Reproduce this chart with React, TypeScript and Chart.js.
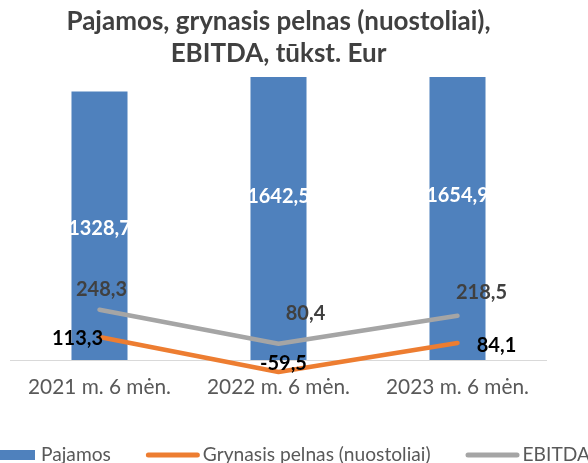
import React, { useEffect, useRef } from "react";
import { Chart, registerables } from "chart.js";

Chart.register(...registerables);

// ---- data ----
const categories = ["2021 m. 6 mėn.", "2022 m. 6 mėn.", "2023 m. 6 mėn."];
const pajamos = [1328.7, 1642.5, 1654.9];
const grynasisPelnas = [113.3, -59.5, 84.1];
const ebitda = [248.3, 80.4, 218.5];
const seriesNames = ["Pajamos", "Grynasis pelnas (nuostoliai)", "EBITDA"];
const titleLines = ["Pajamos, grynasis pelnas (nuostoliai),", "EBITDA, tūkst. Eur"];
const yMin = -70;
const yMax = 1400;

// ---- styles ----
const BLUE = "#4F81BD";
const ORANGE = "#ED7D31";
const GRAY = "#A5A5A5";
const FONT = "Lato, 'Open Sans', sans-serif";
const W = 588;
const H = 463;

// manual label offsets (dx, dy) from each point, per line dataset
const LINE_LABEL_OFFSETS: Record<number, [number, number][]> = {
  1: [[-22, 1], [5, -8], [39, 3]],
  2: [[2, -20], [27, -30], [24, -23]],
};
const LINE_LABEL_COLORS: Record<number, string> = { 1: "#000000", 2: "#404040" };

const fmt = (v: number) => v.toFixed(1).replace(".", ",");

const decorPlugin = {
  id: "decor",
  beforeDatasetsDraw(chart: any) {
    const { ctx, chartArea, scales } = chart;
    const y0 = Math.round(scales.y.getPixelForValue(0)) + 0.5;
    ctx.save();
    ctx.strokeStyle = "#D9D9D9";
    ctx.lineWidth = 1;
    ctx.beginPath();
    ctx.moveTo(chartArea.left, y0);
    ctx.lineTo(chartArea.right, y0);
    ctx.stroke();
    ctx.restore();
  },
  afterDatasetsDraw(chart: any) {
    const { ctx, scales } = chart;
    ctx.save();
    ctx.font = `bold 20px ${FONT}`;
    ctx.textAlign = "center";
    ctx.textBaseline = "middle";
    const barMeta = chart.getDatasetMeta(0);
    barMeta.data.forEach((el: any, i: number) => {
      const v = pajamos[i];
      const y = scales.y.getPixelForValue(v / 2) + 3;
      ctx.fillStyle = "#FFFFFF";
      ctx.fillText(fmt(v), el.x, y);
    });
    [1, 2].forEach((di) => {
      const meta = chart.getDatasetMeta(di);
      const vals = chart.data.datasets[di].data as number[];
      meta.data.forEach((el: any, i: number) => {
        const [dx, dy] = LINE_LABEL_OFFSETS[di][i];
        ctx.fillStyle = LINE_LABEL_COLORS[di];
        ctx.fillText(fmt(vals[i]), el.x + dx, el.y + dy);
      });
    });
    ctx.restore();
  },
  afterDraw(chart: any) {
    const { ctx } = chart;
    const y = 455;
    const colors = [BLUE, ORANGE, GRAY];
    ctx.save();
    ctx.font = `19.2px ${FONT}`;
    ctx.textBaseline = "middle";
    ctx.textAlign = "left";
    let x = -19;
    seriesNames.forEach((name, i) => {
      if (i === 0) {
        ctx.fillStyle = colors[i];
        ctx.fillRect(x, y - 5, 54, 10);
        x += 54 + 6;
      } else {
        ctx.strokeStyle = colors[i];
        ctx.lineWidth = 5;
        ctx.lineCap = "round";
        ctx.beginPath();
        ctx.moveTo(x + 2.5, y);
        ctx.lineTo(x + 51.5, y);
        ctx.stroke();
        x += 54 + 3;
      }
      ctx.fillStyle = "#595959";
      ctx.fillText(name, x, y);
      x += ctx.measureText(name).width + 35;
    });
    ctx.restore();
  },
};

export default function App() {
  const ref = useRef<HTMLCanvasElement | null>(null);
  useEffect(() => {
    if (!ref.current) return;
    const chart = new Chart(ref.current, {
      type: "bar",
      data: {
        labels: categories,
        datasets: [
          {
            type: "bar",
            label: seriesNames[0],
            data: pajamos,
            backgroundColor: BLUE,
            borderWidth: 0,
            barPercentage: 0.313,
            categoryPercentage: 1,
            order: 3,
          },
          {
            type: "line",
            label: seriesNames[1],
            data: grynasisPelnas,
            borderColor: ORANGE,
            backgroundColor: ORANGE,
            borderWidth: 4.5,
            borderCapStyle: "round",
            borderJoinStyle: "round",
            pointRadius: 0,
            tension: 0,
            clip: 10,
            order: 1,
          },
          {
            type: "line",
            label: seriesNames[2],
            data: ebitda,
            borderColor: GRAY,
            backgroundColor: GRAY,
            borderWidth: 4.5,
            borderCapStyle: "round",
            borderJoinStyle: "round",
            pointRadius: 0,
            tension: 0,
            order: 2,
          },
        ],
      },
      options: {
        responsive: false,
        animation: false,
        devicePixelRatio: 1,
        layout: { padding: { left: 10, right: 41, top: 0, bottom: 62.9 } },
        plugins: {
          legend: { display: false },
          tooltip: { enabled: false },
          title: {
            display: true,
            fullSize: false,
            text: titleLines,
            color: "#404040",
            font: { family: FONT, weight: "bold", size: 26, lineHeight: 32 / 26 },
            padding: { top: 6, bottom: 7 },
          },
        },
        scales: {
          x: {
            grid: { display: false, drawTicks: false },
            border: { display: false },
            ticks: {
              color: "#595959",
              font: { family: FONT, size: 20.8, lineHeight: 1 },
              padding: 2.6,
              maxRotation: 0,
            },
          },
          y: {
            display: false,
            min: yMin,
            max: yMax,
          },
        },
      },
      plugins: [decorPlugin],
    });
    return () => chart.destroy();
  }, []);
  return (
    <div style={{ position: "fixed", left: 0, top: 0, width: W, height: H, background: "#fff" }}>
      <canvas ref={ref} width={W} height={H} style={{ width: W, height: H, display: "block" }} />
    </div>
  );
}
